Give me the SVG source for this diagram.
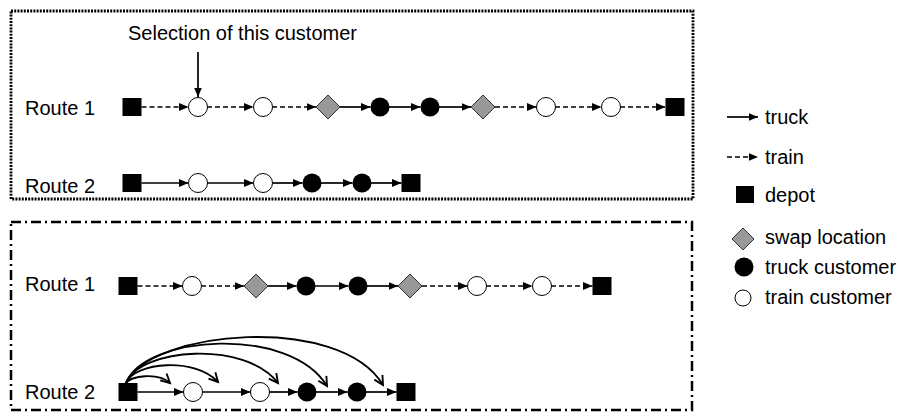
<svg xmlns="http://www.w3.org/2000/svg" width="900" height="419" viewBox="0 0 900 419">
<defs>
<marker id="ah" markerUnits="userSpaceOnUse" markerWidth="11" markerHeight="9" refX="9.5" refY="4" orient="auto"><path d="M0,0 L9.5,4 L0,8 z" fill="#000"/></marker>
<marker id="oh" markerUnits="userSpaceOnUse" markerWidth="13" markerHeight="13" refX="10" refY="5.5" orient="auto"><path d="M1,0.8 L10,5.5 L1,10.2" fill="none" stroke="#000" stroke-width="1.9"/></marker>
</defs>
<style>
text{font-family:"Liberation Sans",Arial,sans-serif;font-size:20px;fill:#000}
.tr{stroke:#000;stroke-width:1.7;fill:none;marker-end:url(#ah)}
.tn{stroke:#000;stroke-width:1.7;fill:none;stroke-dasharray:5 3;marker-end:url(#ah)}
.arc{stroke:#000;stroke-width:1.9;fill:none;marker-end:url(#oh)}
.d{fill:#000}
.w{fill:#fff;stroke:#000;stroke-width:1}
.k{fill:#000}
.s{fill:#999;stroke:#333;stroke-width:1}
</style>
<rect x="11" y="11" width="682" height="188" fill="none" stroke="#000" stroke-width="2.8" stroke-dasharray="2 1.2"/>
<rect x="11" y="222" width="681" height="188" fill="none" stroke="#000" stroke-width="2.5" stroke-dasharray="10 4 2 4"/>
<text x="128" y="40">Selection of this customer</text>
<text x="25" y="115">Route 1</text>
<text x="25" y="193">Route 2</text>
<text x="25" y="291">Route 1</text>
<text x="25" y="399">Route 2</text>
<g id="connectors">
<line class="tr" x1="198" y1="52" x2="198" y2="97"/>
<line class="tn" x1="141.5" y1="107" x2="188.5" y2="107"/>
<line class="tn" x1="207" y1="107" x2="253.5" y2="107"/>
<line class="tn" x1="272" y1="107" x2="316" y2="107"/>
<line class="tr" x1="340" y1="107" x2="370.5" y2="107"/>
<line class="tr" x1="389" y1="107" x2="420.5" y2="107"/>
<line class="tr" x1="439" y1="107" x2="471" y2="107"/>
<line class="tn" x1="495" y1="107" x2="536.5" y2="107"/>
<line class="tn" x1="555" y1="107" x2="601.5" y2="107"/>
<line class="tn" x1="620" y1="107" x2="665.5" y2="107"/>
<line class="tr" x1="141.5" y1="183" x2="188.5" y2="183"/>
<line class="tr" x1="207" y1="183" x2="253.5" y2="183"/>
<line class="tr" x1="272" y1="183" x2="302.5" y2="183"/>
<line class="tr" x1="321" y1="183" x2="352.5" y2="183"/>
<line class="tr" x1="371" y1="183" x2="401.5" y2="183"/>
<line class="tn" x1="137.5" y1="286" x2="182.5" y2="286"/>
<line class="tn" x1="201" y1="286" x2="244" y2="286"/>
<line class="tr" x1="268" y1="286" x2="296.5" y2="286"/>
<line class="tr" x1="315" y1="286" x2="348.5" y2="286"/>
<line class="tr" x1="367" y1="286" x2="398" y2="286"/>
<line class="tn" x1="422" y1="286" x2="467.5" y2="286"/>
<line class="tn" x1="486" y1="286" x2="532.5" y2="286"/>
<line class="tn" x1="551" y1="286" x2="592.5" y2="286"/>
<line class="tr" x1="137.5" y1="392" x2="183.5" y2="392"/>
<line class="tr" x1="202" y1="392" x2="250.5" y2="392"/>
<line class="tr" x1="269" y1="392" x2="297.5" y2="392"/>
<line class="tr" x1="316" y1="392" x2="347.5" y2="392"/>
<line class="tr" x1="366" y1="392" x2="396.5" y2="392"/>
<path class="arc" d="M126,383 C130,376 158,372 170,383"/>
<path class="arc" d="M126,383 C135,362 195,357 218,382"/>
<path class="arc" d="M126,383 C140,348 245,340 278,383"/>
<path class="arc" d="M126,383 C145,335 290,325 327,386"/>
<path class="arc" d="M126,383 C150,330 340,313 383,385"/>
<line class="tr" x1="727" y1="117" x2="758" y2="117"/>
<line class="tn" x1="727" y1="157" x2="758" y2="157"/>
</g>
<g id="r1top">
<rect class="d" x="122.5" y="98" width="19" height="18"/>
<circle class="w" cx="198" cy="107" r="9.5"/>
<circle class="w" cx="263" cy="107" r="9.5"/>
<polygon class="s" points="328,95 340,107 328,119 316,107"/>
<circle class="k" cx="380" cy="107" r="9.5"/>
<circle class="k" cx="430" cy="107" r="9.5"/>
<polygon class="s" points="483,95 495,107 483,119 471,107"/>
<circle class="w" cx="546" cy="107" r="9.5"/>
<circle class="w" cx="611" cy="107" r="9.5"/>
<rect class="d" x="665.5" y="98" width="19" height="18"/>
</g>
<g id="r2top">
<rect class="d" x="122.5" y="174" width="19" height="18"/>
<circle class="w" cx="198" cy="183" r="9.5"/>
<circle class="w" cx="263" cy="183" r="9.5"/>
<circle class="k" cx="312" cy="183" r="9.5"/>
<circle class="k" cx="362" cy="183" r="9.5"/>
<rect class="d" x="401.5" y="174" width="19" height="18"/>
</g>
<g id="r1bot">
<rect class="d" x="118.5" y="277" width="19" height="18"/>
<circle class="w" cx="192" cy="286" r="9.5"/>
<polygon class="s" points="256,274 268,286 256,298 244,286"/>
<circle class="k" cx="306" cy="286" r="9.5"/>
<circle class="k" cx="358" cy="286" r="9.5"/>
<polygon class="s" points="410,274 422,286 410,298 398,286"/>
<circle class="w" cx="477" cy="286" r="9.5"/>
<circle class="w" cx="542" cy="286" r="9.5"/>
<rect class="d" x="592.5" y="277" width="19" height="18"/>
</g>
<g id="r2bot">
<rect class="d" x="118.5" y="383" width="19" height="18"/>
<circle class="w" cx="193" cy="392" r="9.5"/>
<circle class="w" cx="260" cy="392" r="9.5"/>
<circle class="k" cx="307" cy="392" r="9.5"/>
<circle class="k" cx="357" cy="392" r="9.5"/>
<rect class="d" x="396.5" y="383" width="19" height="18"/>
</g>
<g id="legend">
<text x="765" y="124">truck</text>
<text x="765" y="164">train</text>
<rect class="d" x="736" y="186" width="18" height="17"/>
<text x="765" y="202">depot</text>
<polygon class="s" points="743,228 754,239 743,250 732,239"/>
<text x="765" y="244">swap location</text>
<circle class="k" cx="744" cy="267" r="9.5"/>
<text x="765" y="274">truck customer</text>
<circle class="w" cx="743" cy="298" r="8"/>
<text x="765" y="304">train customer</text>
</g>
</svg>
